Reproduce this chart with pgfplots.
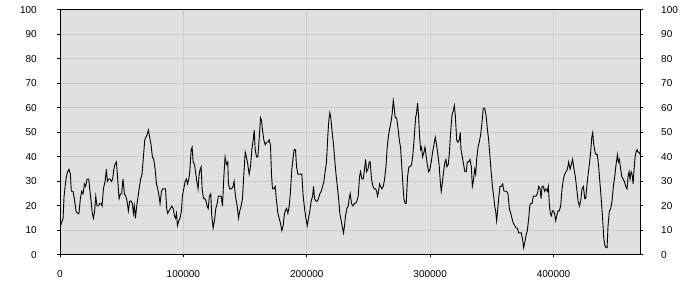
\documentclass[border=0pt]{standalone}
\usepackage{pgfplots}
\pgfplotsset{compat=1.18}
\usepackage{fontspec}
\setmainfont{Liberation Sans}
\definecolor{plotbg}{HTML}{E0E0E0}
\definecolor{gridc}{HTML}{CDCDCD}
\begin{document}
\begin{tikzpicture}[font=\fontsize{10bp}{12bp}\selectfont]
\path[use as bounding box] (0,0) rectangle (700bp,300bp);
\begin{axis}[
  at={(60bp,45bp)}, anchor=south west,
  scale only axis, width=580.5bp, height=245bp,
  xmin=0, xmax=470500, ymin=0, ymax=100,
  axis background/.style={fill=plotbg},
  axis line style={black, line width=1bp},
  xtick={0,100000,200000,300000,400000},
  ytick={0,10,...,100},
  xtick pos=bottom, ytick pos=left,
  tick align=outside, major tick length=2.5bp,
  tick style={black, line width=1bp},
  grid=major, major grid style={gridc, line width=1bp},
  scaled x ticks=false,
  /pgf/number format/.cd, fixed, 1000 sep={}, assume math mode=true,
  /pgfplots/.cd,
  yticklabel style={anchor=east, inner sep=0pt, xshift=-20.5bp},
  xticklabel style={anchor=north, inner sep=0pt, yshift=-13.2bp},
]
\addplot[black, line width=0.9bp, mark=none] coordinates {
(0,11)(1100,13)(2500,15)(3300,24)(4400,29)(5200,32)(6200,34)(7300,35)(8400,33)(9200,26)
(10600,26)(11900,22)(13000,18)(14100,17)(15400,17)(16500,23)(17600,26)(18700,25)(19800,29)(20800,28)
(21900,31)(23300,31)(24100,27)(25200,22)(26200,17)(27100,15)(28100,18)(29000,24)(30000,20)(31100,20)
(32200,21)(33300,21)(34100,20)(35200,27)(36500,30)(37600,35)(38400,30)(39500,31)(40600,31)(41700,30)
(42700,31)(43600,35)(44600,37)(45700,38)(46500,33)(47300,27)(47900,23)(49000,25)(50000,25)(51100,31)
(52200,25)(53300,24)(54400,22)(55400,18)(56500,22)(57600,22)(58700,21)(59500,17)(60300,20)(61100,15)
(62200,20)(63300,24)(64400,28)(65400,31)(66500,33)(67600,40)(68700,47)(69500,48)(70600,49)(71700,51)
(72700,48)(73800,45)(74900,40)(76000,39)(77100,35)(78200,29)(79200,27)(80300,24)(81100,21)(82200,26)
(83300,27)(84600,27)(85500,27)(86500,19)(87300,17)(88400,18)(89500,19)(90600,20)(91700,19)(92800,16)
(93600,15)(94400,17)(95200,12)(96300,14)(97300,15)(98400,18)(99200,24)(100300,27)(101400,30)(102500,31)
(103300,29)(104400,31)(105200,34)(106300,43)(107100,44)(107900,38)(109000,37)(109800,34)(110900,30)(111900,27)
(112800,33)(113600,35)(114400,36)(115200,27)(116300,23)(117400,23)(118400,22)(119200,20)(120100,19)(121100,24)
(122200,25)(123000,16)(124100,11)(125200,14)(126300,19)(127400,21)(128400,24)(129500,24)(130600,24)(131700,20)
(132800,32)(133800,40)(134900,37)(136000,38)(136500,29)
(137600,27)(139000,27)(140300,28)(141100,30)(142200,24)(143600,20)(144700,15)(145700,18)(146800,20)(147900,23)
(149000,33)(150100,42)(151100,40)(152200,37)(153300,33)(154400,36)(155500,43)(156600,47)(157400,51)(158200,43)
(159300,40)(160300,40)(161400,47)(162500,56)(163300,55)(164100,51)(165200,47)(166300,45)(167400,46)(168500,46)
(169500,47)(170600,45)(171400,33)(172200,27)(173300,27)(174400,28)(175500,22)(176600,17)(177600,15)(178700,13)
(179800,10)(180900,12)(181700,16)(182500,18)(183600,19)(184700,17)(185800,20)(186800,26)(187900,35)(189000,40)
(189800,43)(190900,43)(191700,36)(192800,33)(193900,33)(194900,33)(196000,33)(197100,24)(198200,19)(199300,15)
(200400,12)(201400,15)(202500,18)(203600,22)(204700,24)(205500,28)(206300,23)(207400,22)(208500,22)(209500,23)
(210600,25)(211700,26)(212800,28)(213900,30)(214900,34)(216000,38)(217100,49)(217900,55)(218700,58)(219500,56)
(220600,50)(221700,45)(222800,38)(223900,32)(225000,27)(226000,22)(226800,17)(227900,14)(229000,11)(229800,9)
(230600,12)(231400,16)(232500,19)(233600,20)(234400,23)(235200,25)(236300,21)(237400,20)(238500,21)(239500,21)
(240600,22)(241700,24)(242800,32)(243600,34)(244700,31)(245800,31)(246800,35)(247700,39)(248500,34)(249600,35)
(250600,38)(251400,38)(252500,31)(253600,28)(254700,27)(255800,27)(256600,26)(257400,24)(258200,26)(259000,29)
(259800,28)(260900,27)(262000,28)(263100,31)(264200,36)(265200,44)(266300,49)(267400,52)(268500,55)(269300,58)
(270100,63)(270900,60)(271700,56)(272800,56)(273900,52)(275000,47)(276000,44)(276900,37)(277900,29)(278700,23)
(279800,21)(280600,21)(281700,32)(282800,36)(283900,36)(285000,37)(286000,41)(287100,48)(288200,56)(289000,58)
(289800,62)(290600,57)(291500,48)(292300,43)(293100,44)(293900,40)(295000,42)(295800,44)(296600,41)(297700,37)
(298800,34)(299800,35)(300900,38)(302000,42)(303100,45)(304200,48)(305200,45)(306300,41)(307400,36)(308200,30)
(309000,26)(309800,29)(310900,34)(312000,38)(312800,39)(313600,36)(314700,37)(315500,41)(316600,50)(317700,57)
(318800,59)(319600,61)(320400,57)(321500,47)(322500,46)(323600,47)(324400,50)
(325000,43)(326100,40)(327100,37)(328200,34)(329300,34)(330100,38)(331200,38)(332300,39)(333400,36)(334200,28)
(335000,30)(336100,35)(336900,33)(337700,39)(338800,44)(339800,46)(340900,49)(342000,54)(343100,60)(344200,60)
(345300,57)(346300,52)(347400,47)(348500,40)(349600,33)(350700,27)(351500,24)(352300,20)(353100,18)(353900,14)
(354700,18)(355500,23)(356600,28)(357700,28)(358800,29)(359900,26)(360900,26)(362000,26)(363100,25)(364200,19)
(365300,17)(366300,15)(367400,13)(368500,12)(369600,11)(370700,11)(371700,9)(372800,9)(373900,9)(375000,6)
(375800,3)(376600,5)(377700,8)(378800,10)(379900,15)(380700,20)(381500,21)(382600,21)(383600,24)(384700,24)
(385800,24)(386900,25)(388000,28)(389100,27)(389900,23)(390700,28)(391800,28)(392800,26)(393900,27)(395000,26)
(395800,28)(396600,21)(397400,17)(398200,16)(399100,18)(399900,18)(400900,17)(401800,14)(402600,16)(403600,18)
(404700,18)(405800,20)(406900,27)(408000,31)(409100,33)(410100,34)(411200,35)(412300,38)(413400,35)(414500,37)
(415500,39)(416600,35)(417700,32)(418800,27)(419900,22)(421000,20)(422000,22)(423100,27)(424200,28)(425300,23)
(426100,23)(427200,29)(428300,34)(429300,38)(430100,42)(431000,48)(431800,50)(432600,45)(433700,42)(434500,41)
(435500,41)(436600,36)(437700,29)(438800,22)(439900,14)(440700,7)(441500,4)(442600,3)(443400,3)(444200,12)
(445300,18)(446400,19)(447400,22)(448500,28)(449600,32)(450700,37)(451800,41)(452600,38)(453400,39)(454200,36)
(455300,32)(456400,31)(457400,30)(458500,28)(459600,27)(460400,32)(461200,34)(462000,31)(462900,34)(463700,33)
(464500,29)(465300,35)(466100,40)(466900,42)(467700,43)(468500,42)(469300,42)(470200,41)
};
\end{axis}
\begin{axis}[
  at={(60bp,45bp)}, anchor=south west,
  scale only axis, width=580.5bp, height=245bp,
  xmin=0, xmax=470500, ymin=0, ymax=100,
  axis x line=none,
  axis y line*=right,
  axis line style={black, line width=1bp},
  ytick={0,10,...,100},
  tick align=outside, major tick length=2.5bp,
  tick style={black, line width=1bp},
  /pgf/number format/.cd, fixed, 1000 sep={}, assume math mode=true,
  /pgfplots/.cd,
  yticklabel style={anchor=west, inner sep=0pt, xshift=18bp},
]
\addplot[draw=none] coordinates {(0,0)};
\end{axis}
\end{tikzpicture}
\end{document}
